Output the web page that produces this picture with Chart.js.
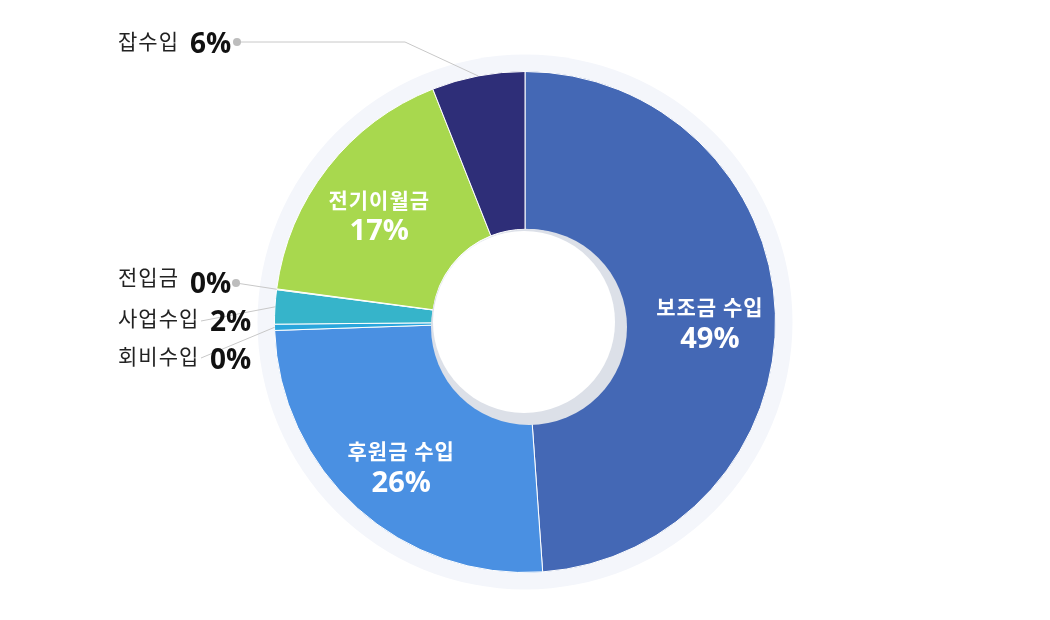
<!DOCTYPE html>
<html>
<head>
<meta charset="utf-8">
<script src="https://cdn.jsdelivr.net/npm/chart.js@4"></script>
<style>
  body { margin: 0; background: #fff; }
  #wrap { width: 1050px; height: 620px; }
</style>
</head>
<body>
<div id="wrap"><canvas id="income-chart"></canvas></div>
<script>
const labels = ["보조금 수입", "후원금 수입", "회비수입", "사업수입", "전입금", "전기이월금", "잡수입"];
const values = [48.9, 25.6, 0.4, 2.2, 0.05, 16.9, 6.0];
const colors = ["#4468B5", "#4A90E2", "#2AA6DC", "#36B4CA", "#8CC63F", "#A8D84E", "#2E2E78"];

// which slices get their label inside, the rest get a leader line
const inside = [true, true, false, false, false, true, false];
// text anchors for outside labels, percent x, line start point
const outside = {
  6: { x: 118, y: 41, px: 190, py: 45, lx: 237, ly: 42, bend: [405, 42], dot: true },
  4: { x: 118, y: 277, px: 190, py: 285, lx: 236, ly: 283, dot: true },
  3: { x: 118, y: 318, px: 210, py: 323, lx: 201, ly: 321, dot: false },
  2: { x: 118, y: 356, px: 210, py: 361, lx: 201, ly: 358, dot: false },
};

const total = values.reduce((a, b) => a + b, 0);
const pct = values.map(v => Math.round(v / total * 100) + "%");
const FONT = "'Noto Sans CJK KR', 'Noto Sans', sans-serif";
const NUMFONT = "'Open Sans', 'Noto Sans', sans-serif";

const holePlugin = {
  id: "hole",
  beforeDatasetsDraw(chart) {
    const arc = chart.getDatasetMeta(0).data[0];
    const ctx = chart.ctx;
    ctx.save();
    ctx.fillStyle = "#F4F6FB";
    ctx.beginPath();
    ctx.arc(arc.x, arc.y, arc.outerRadius + 17, 0, Math.PI * 2);
    ctx.fill();
    ctx.restore();
  },
  afterDatasetsDraw(chart) {
    const meta = chart.getDatasetMeta(0);
    const arc0 = meta.data[0];
    const cx = arc0.x, cy = arc0.y, R = arc0.outerRadius;
    const ctx = chart.ctx;
    ctx.save();
    // inner hole with shadow
    ctx.fillStyle = "#DCE0E8";
    ctx.beginPath();
    ctx.arc(cx + 4, cy + 5, 98, 0, Math.PI * 2);
    ctx.fill();
    ctx.fillStyle = "#FFFFFF";
    ctx.beginPath();
    ctx.arc(cx - 1, cy, 91, 0, Math.PI * 2);
    ctx.fill();

    // labels
    meta.data.forEach((a, i) => {
      const mid = (a.startAngle + a.endAngle) / 2;
      if (inside[i]) {
        const r = 185;
        const x = cx + Math.cos(mid) * r;
        const y = cy + Math.sin(mid) * r;
        ctx.fillStyle = "#FFFFFF";
        ctx.textAlign = "center";
        ctx.textBaseline = "middle";
        ctx.font = "bold 21px " + FONT;
        ctx.letterSpacing = "1px";
        ctx.fillText(labels[i], x, y - 8);
        ctx.letterSpacing = "0px";
        ctx.font = "bold 29px " + NUMFONT;
        ctx.fillText(pct[i], x, y + 24);
      } else {
        const o = outside[i];
        const ex = cx + Math.cos(mid) * R;
        const ey = cy + Math.sin(mid) * R;
        ctx.strokeStyle = "#C8C8C8";
        ctx.lineWidth = 1;
        ctx.beginPath();
        ctx.moveTo(o.lx, o.ly);
        if (o.bend) ctx.lineTo(o.bend[0], o.bend[1]);
        ctx.lineTo(ex, ey);
        ctx.stroke();
        if (o.dot) {
          ctx.fillStyle = "#BDBDBD";
          ctx.beginPath();
          ctx.arc(o.lx, o.ly, 4, 0, Math.PI * 2);
          ctx.fill();
        }
        ctx.textAlign = "left";
        ctx.textBaseline = "middle";
        ctx.font = "21px " + FONT;
        ctx.letterSpacing = "1px";
        ctx.fillStyle = "#222222";
        ctx.fillText(labels[i], o.x, o.y);
        ctx.letterSpacing = "0px";
        ctx.font = "bold 28px " + NUMFONT;
        ctx.fillStyle = "#111111";
        ctx.fillText(pct[i], o.px, o.py);
      }
    });
    ctx.restore();
  }
};

const ctx = document.getElementById("income-chart").getContext("2d");

const chart = new Chart(ctx, {
  type: "doughnut",
  data: {
    labels,
    datasets: [
      {
        data: values,
        backgroundColor: colors,
        borderColor: "#FFFFFF",
        borderWidth: 1,
      },
    ],
  },
  options: {
    responsive: true,
    maintainAspectRatio: false,
    animation: false,
    cutout: "37%",
    layout: { padding: { top: 71, bottom: 47 } },
    plugins: {
      legend: { display: false },
      tooltip: { enabled: false },
    },
  },
  plugins: [holePlugin],
});
</script>
</body>
</html>
